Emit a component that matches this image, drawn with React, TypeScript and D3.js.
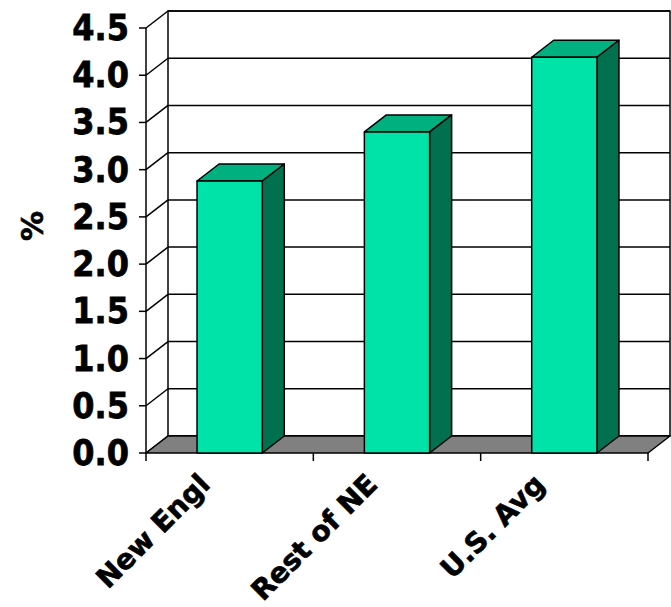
import React from 'react';
import * as d3 from 'd3';

const categories = ['New Engl', 'Rest of NE', 'U.S. Avg'];
const values = [2.88, 3.4, 4.19];
const yTicks = [0, 0.5, 1, 1.5, 2, 2.5, 3, 3.5, 4, 4.5];

const W = 671;
const H = 607;
const DX = 22; // depth offset of the 3D box
const DY = -17;
const FONT = '"DejaVu Sans", Verdana, sans-serif';

const App = () => {
  const x = d3.scaleBand<string>()
    .domain(categories)
    .range([146, 648])
    .paddingInner(0.61)
    .paddingOuter(0.305);
  const step = x.step();
  const y = d3.scaleLinear().domain([0, 4.5]).range([453, 28]);

  const x0 = 146;
  const x1 = 648;
  const y0 = y(0);
  const yTop = y(4.5);

  const pts = (arr: number[][]) => arr.map(p => p.join(',')).join(' ');

  // tick marks between the categories
  const tickXs = [x0, ...categories.map((c, i) => x0 + step * (i + 1))];

  return (
    <svg width={W} height={H} style={{ position: 'absolute', left: 0, top: 0, background: '#fff' }}>
      {/* back wall */}
      <rect x={x0 + DX} y={yTop + DY} width={x1 - x0} height={y0 - yTop}
        fill="#fff" stroke="#000" strokeWidth={1.5} />
      {/* grid lines: back wall and left side wall */}
      {yTicks.map(t => (
        <g key={t}>
          <line x1={x0 + DX} x2={x1 + DX} y1={y(t) + DY} y2={y(t) + DY} stroke="#000" strokeWidth={1.5} />
          <line x1={x0} x2={x0 + DX} y1={y(t)} y2={y(t) + DY} stroke="#000" strokeWidth={1.5} />
        </g>
      ))}
      {/* floor */}
      <polygon
        points={pts([[x0, y0], [x1, y0], [x1 + DX, y0 + DY], [x0 + DX, y0 + DY]])}
        fill="#808080" stroke="#000" strokeWidth={1.5} strokeLinejoin="round" />
      {/* front y axis */}
      <line x1={x0} x2={x0} y1={yTop} y2={y0} stroke="#000" strokeWidth={1.5} />
      {yTicks.map(t => (
        <line key={'t' + t} x1={x0 - 7} x2={x0} y1={y(t)} y2={y(t)} stroke="#000" strokeWidth={1.5} />
      ))}
      {tickXs.map((tx, i) => (
        <line key={'xt' + i} x1={tx} x2={tx} y1={y0} y2={y0 + 8} stroke="#000" strokeWidth={1.5} />
      ))}
      {/* bars */}
      {categories.map((c, i) => {
        const bx = x(c) as number;
        const bw = x.bandwidth();
        const by = y(values[i]);
        return (
          <g key={c} stroke="#000" strokeWidth={1.5} strokeLinejoin="round">
            <polygon fill="#00b07f"
              points={pts([[bx, by], [bx + bw, by], [bx + bw + DX, by + DY], [bx + DX, by + DY]])} />
            <polygon fill="#00704f"
              points={pts([[bx + bw, by], [bx + bw + DX, by + DY], [bx + bw + DX, y0 + DY], [bx + bw, y0]])} />
            <rect x={bx} y={by} width={bw} height={y0 - by} fill="#00e3a8" />
          </g>
        );
      })}
      {/* y tick labels */}
      {yTicks.map(t => (
        <text key={'l' + t} transform={`translate(129,${y(t) + 12}) scale(1,1.12)`}
          textAnchor="end" fontFamily={FONT} fontWeight="bold" fontSize={32} fill="#000"
          stroke="#000" strokeWidth={0.7}>
          {t.toFixed(1)}
        </text>
      ))}
      {/* y axis title */}
      <text transform="translate(43,226) rotate(-90)" textAnchor="middle"
        fontFamily={FONT} fontWeight="bold" fontSize={30} fill="#000" stroke="#000" strokeWidth={0.6}>%</text>
      {/* category labels */}
      {categories.map(c => {
        const cx = (x(c) as number) + x.bandwidth() / 2;
        return (
          <text key={'c' + c} transform={`translate(${cx - 18},${486}) rotate(-45)`}
            textAnchor="end" fontFamily={FONT} fontWeight="bold" fontSize={28} fill="#000"
            stroke="#000" strokeWidth={0.7}>
            {c}
          </text>
        );
      })}
    </svg>
  );
};

export default App;
